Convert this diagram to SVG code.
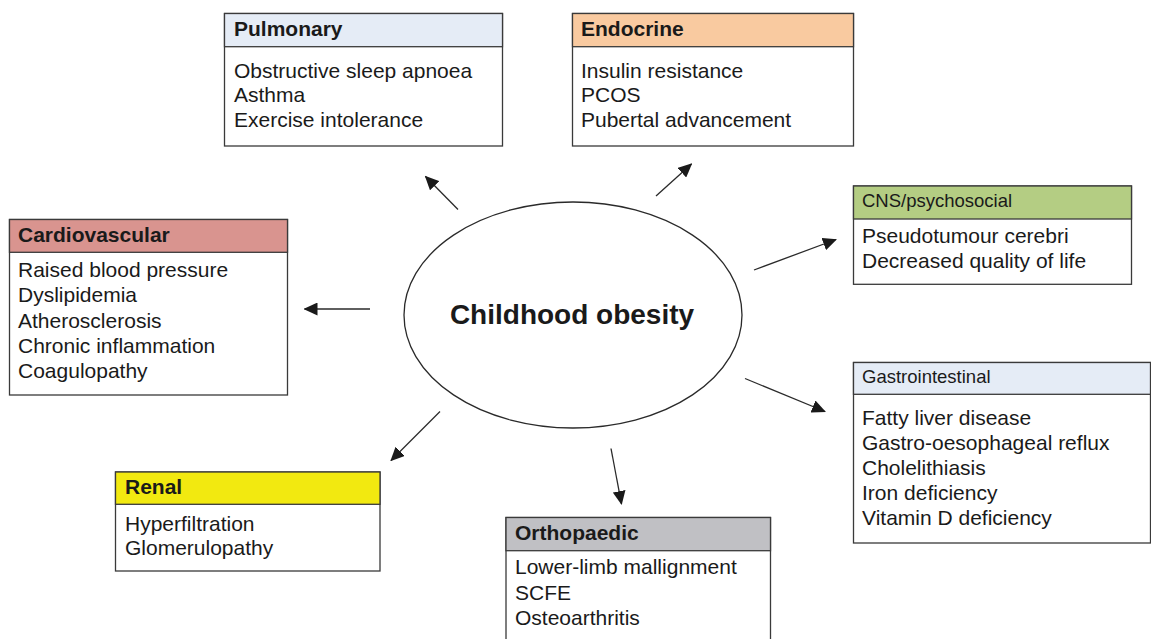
<svg xmlns="http://www.w3.org/2000/svg" width="1151" height="639" viewBox="0 0 1151 639">
<style>
.box{fill:#fff;stroke:#3a3a3a;stroke-width:1.3}
.hd{stroke:#3a3a3a;stroke-width:1.3}
.t{font-family:"Liberation Sans",Arial,sans-serif;fill:#1a1a1a}
.title{font-size:21px;font-weight:bold}
.title2{font-size:18.5px}
.item{font-size:21px}
.conn line{stroke:#2a2a2a;stroke-width:1.3;fill:none}
</style>
<defs>
<marker id="ah" markerUnits="userSpaceOnUse" markerWidth="14" markerHeight="13" refX="13" refY="6.5" orient="auto">
<path d="M0,0 L14,6.5 L0,13 Z" fill="#1a1a1a"/>
</marker>
</defs>
<rect width="1151" height="639" fill="#fff"/>

<g id="center">
<ellipse cx="573" cy="315" rx="169" ry="113" fill="#fff" stroke="#2a2a2a" stroke-width="1.3"/>
<text class="t" x="572" y="324" font-size="28" font-weight="bold" text-anchor="middle">Childhood obesity</text>
</g>

<g class="conn" id="connectors">
<line x1="458" y1="209.5" x2="425.5" y2="176.5" marker-end="url(#ah)"/>
<line x1="656" y1="196" x2="691.5" y2="164" marker-end="url(#ah)"/>
<line x1="754" y1="270" x2="836" y2="239.5" marker-end="url(#ah)"/>
<line x1="745" y1="378.5" x2="825" y2="411.5" marker-end="url(#ah)"/>
<line x1="370" y1="309" x2="304.5" y2="309" marker-end="url(#ah)"/>
<line x1="440" y1="411.5" x2="391" y2="460.5" marker-end="url(#ah)"/>
<line x1="611" y1="448.5" x2="621.5" y2="504" marker-end="url(#ah)"/>
</g>

<g id="pulmonary">
<rect class="box" x="224.5" y="13.5" width="278" height="132.5"/>
<rect x="224.5" y="13.5" width="278" height="33.2" fill="#e5ecf6" class="hd"/>
<text class="t title" x="234" y="36">Pulmonary</text>
<text class="t item" x="234" y="77.5">Obstructive sleep apnoea</text>
<text class="t item" x="234" y="102">Asthma</text>
<text class="t item" x="234" y="127">Exercise intolerance</text>
</g>

<g id="endocrine">
<rect class="box" x="572.5" y="13.5" width="281" height="132.5"/>
<rect x="572.5" y="13.5" width="281" height="33.2" fill="#f9caa0" class="hd"/>
<text class="t title" x="581" y="36">Endocrine</text>
<text class="t item" x="581" y="77.5">Insulin resistance</text>
<text class="t item" x="581" y="102">PCOS</text>
<text class="t item" x="581" y="127">Pubertal advancement</text>
</g>

<g id="cardiovascular">
<rect class="box" x="9.5" y="219.5" width="278" height="175.5"/>
<rect x="9.5" y="219.5" width="278" height="32.8" fill="#d9948f" class="hd"/>
<text class="t title" x="18" y="242">Cardiovascular</text>
<text class="t item" x="18" y="277">Raised blood pressure</text>
<text class="t item" x="18" y="302.3">Dyslipidemia</text>
<text class="t item" x="18" y="327.5">Atherosclerosis</text>
<text class="t item" x="18" y="352.5">Chronic inflammation</text>
<text class="t item" x="18" y="377.5">Coagulopathy</text>
</g>

<g id="cns">
<rect class="box" x="853.5" y="186" width="278" height="98.3"/>
<rect x="853.5" y="186" width="278" height="33" fill="#b4cd83" class="hd"/>
<text class="t title2" x="862" y="207">CNS/psychosocial</text>
<text class="t item" x="862" y="243.3">Pseudotumour cerebri</text>
<text class="t item" x="862" y="267.5">Decreased quality of life</text>
</g>

<g id="gastrointestinal">
<rect class="box" x="853.5" y="362.5" width="297" height="180.5"/>
<rect x="853.5" y="362.5" width="297" height="31.8" fill="#e5ecf6" class="hd"/>
<text class="t title2" x="862" y="382.5">Gastrointestinal</text>
<text class="t item" x="862" y="425">Fatty liver disease</text>
<text class="t item" x="862" y="450">Gastro-oesophageal reflux</text>
<text class="t item" x="862" y="475">Cholelithiasis</text>
<text class="t item" x="862" y="500">Iron deficiency</text>
<text class="t item" x="862" y="525">Vitamin D deficiency</text>
</g>

<g id="renal">
<rect class="box" x="115.5" y="472" width="264.5" height="99"/>
<rect x="115.5" y="472" width="264.5" height="32.3" fill="#f2e910" class="hd"/>
<text class="t title" x="125" y="493.5">Renal</text>
<text class="t item" x="125" y="530.5">Hyperfiltration</text>
<text class="t item" x="125" y="554.5">Glomerulopathy</text>
</g>

<g id="orthopaedic">
<rect class="box" x="506" y="517.5" width="264.5" height="130"/>
<rect x="506" y="517.5" width="264.5" height="33.2" fill="#c0c0c4" class="hd"/>
<text class="t title" x="515" y="539.5">Orthopaedic</text>
<text class="t item" x="515" y="573.5">Lower-limb mallignment</text>
<text class="t item" x="515" y="599.5">SCFE</text>
<text class="t item" x="515" y="625">Osteoarthritis</text>
</g>
</svg>
